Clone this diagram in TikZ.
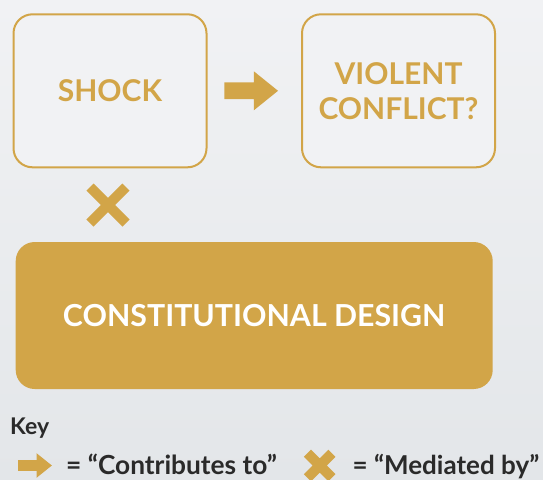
\documentclass[tikz,border=0pt]{standalone}
\usepackage{fontspec}
\setmainfont{Lato}
\usetikzlibrary{calc}
\definecolor{gold}{HTML}{D2A548}
\definecolor{bgtop}{HTML}{F1F2F4}
\definecolor{bgbot}{HTML}{E3E6E9}
\definecolor{boxfill}{HTML}{F1F2F4}
\definecolor{keytext}{HTML}{2A2A2A}
\tikzset{
  outlinebox/.style={draw=gold, line width=2pt, fill=boxfill, rounded corners=19pt,
    minimum width=193pt, minimum height=153pt, inner sep=0pt, align=center,
    text=gold, font=\fontsize{30}{35}\selectfont\bfseries},
  solidbox/.style={fill=gold, rounded corners=19pt, minimum width=477pt, minimum height=147pt,
    inner sep=0pt, text=white, font=\fontsize{30.3}{35}\selectfont\bfseries},
  keylabel/.style={anchor=base west, inner sep=0pt, text=keytext},
  blockarrow/.pic={\fill[gold] (0,-8.4) -- (29.5,-8.4) -- (29.5,-19.5) -- (53.7,0) -- (29.5,19.5) -- (29.5,8.4) -- (0,8.4) -- cycle;},
  crossmark/.pic={\draw[gold, line width=10pt] (-18,-18) -- (18,18) (-18,18) -- (18,-18);}
}
\begin{document}
\begin{tikzpicture}[x=1pt,y=-1pt]
\shade[top color=bgtop, bottom color=bgbot] (0,0) rectangle (543,479);
\useasboundingbox (0,0) rectangle (543,479);
\node[outlinebox] (shock) at (110,90.8) {SHOCK};
\node[outlinebox] (violent) at (398.5,90.8) {VIOLENT\\CONFLICT?};
\node[solidbox] (design) at (254.2,315.5) {CONSTITUTIONAL DESIGN};
\coordinate (arrowstart) at ($(shock.east)!0.18!(violent.west)$);
\pic at (arrowstart) {blockarrow};
\coordinate (crossc) at ($(shock.south)!0.5!(shock.south |- design.north)$);
\pic at ($(crossc)+(-2,0)$) {crossmark};
\node[keylabel, font=\fontsize{23}{27}\selectfont\bfseries] (key) at (10,434) {Key};
\pic[scale=0.63] at (18,465.5) {blockarrow};
\node[keylabel, font=\fontsize{26.3}{30}\selectfont\bfseries] (contrib) at (66,474.3) {= “Contributes to”};
\pic[scale=0.68] at (319.7,465.5) {crossmark};
\node[keylabel, font=\fontsize{26}{30}\selectfont\bfseries] (mediated) at (352.5,474.3) {= “Mediated by”};
\end{tikzpicture}
\end{document}
